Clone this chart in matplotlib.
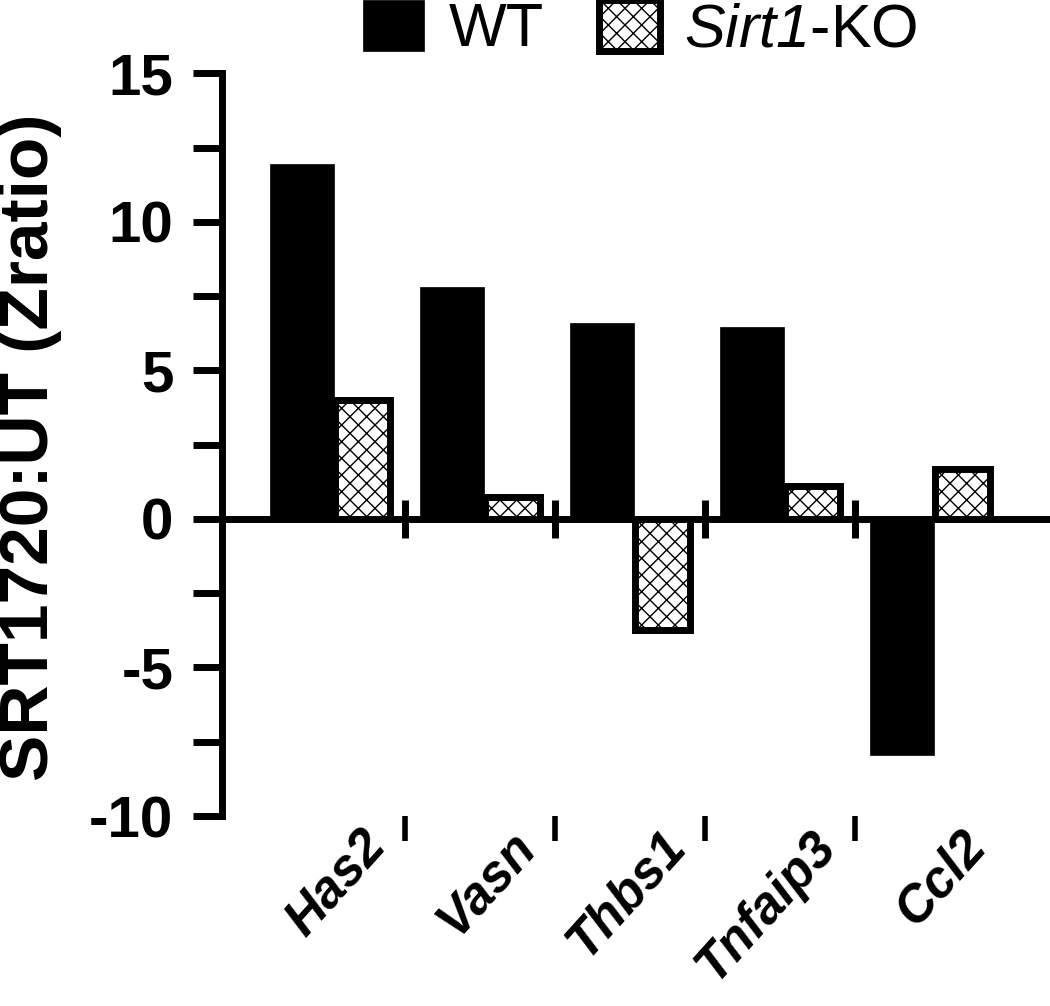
import matplotlib
matplotlib.use("Agg")
import matplotlib.pyplot as plt
import matplotlib.patches as mpatches
import matplotlib.transforms as mtransforms
from matplotlib.ticker import MultipleLocator
import numpy as np

plt.rcParams['font.family'] = ['Liberation Sans', 'DejaVu Sans']
plt.rcParams['mathtext.fontset'] = 'custom'
plt.rcParams['mathtext.rm'] = 'Liberation Sans:italic'
plt.rcParams['mathtext.it'] = 'Liberation Sans:italic'
plt.rcParams['mathtext.bf'] = 'Liberation Sans:bold'
plt.rcParams['hatch.linewidth'] = 1.0
plt.rcParams['axes.unicode_minus'] = False

# ---- data ----
genes = ["Has2", "Vasn", "Thbs1", "Tnfaip3", "Ccl2"]
wt_values = [11.95, 7.8, 6.6, 6.45, -7.95]
ko_values = [4.0, 0.73, -3.75, 1.12, 1.69]
series_labels = ["WT", r"$\mathrm{Sirt1}$-KO"]
y_ticks = [-10, -5, 0, 5, 10, 15]
y_label = "SRT1720:UT (Zratio)"

fig = plt.figure(figsize=(10.5, 10.06), dpi=100)
ax = fig.add_axes([222/1050, 1 - 816/1006, (1048-222)/1050, (816-73.3)/1006])

x = np.arange(len(genes))
w_wt = 0.43
w_ko = 0.37
ax.bar(x, wt_values, width=-w_wt, align='edge', color='black', edgecolor='black',
       linewidth=0.5, zorder=2)
ax.bar(x + 0.005, ko_values, width=w_ko, align='edge', color='white', edgecolor='black',
       linewidth=5, hatch='xx', zorder=2)

ax.set_xlim(-0.747, 4.76)
ax.set_ylim(-10, 15)

for s in ['top', 'right', 'bottom']:
    ax.spines[s].set_visible(False)
ax.spines['left'].set_linewidth(5)
ax.spines['left'].set_capstyle('projecting')

ax.set_yticks(y_ticks)
ax.yaxis.set_minor_locator(MultipleLocator(2.5))
ax.tick_params(axis='y', which='both', direction='out', length=21, width=5, pad=14,
               labelsize=42)
for lab in ax.get_yticklabels():
    lab.set_fontweight('bold')

# group boundary ticks at the bottom
bounds = x[:-1] + 0.475
ax.set_xticks(bounds)
ax.set_xticklabels([])
ax.tick_params(axis='x', which='major', direction='out', length=18, width=4, pad=0)
ax.tick_params(axis='x', which='minor', length=0)

# zero line with crossing ticks
sec = ax.secondary_xaxis(0, transform=ax.transData)
sec.spines['bottom'].set_linewidth(5)
sec.set_xticks(bounds)
sec.set_xticklabels([])
sec.tick_params(axis='x', direction='inout', length=28, width=5)

# category labels
trans = mtransforms.blended_transform_factory(ax.transData, ax.transAxes)
for xi, g in zip(x, genes):
    ax.text(xi + 0.17, -0.008, g, transform=trans, rotation=48, ha='right', va='top',
            rotation_mode='anchor', fontsize=37, fontweight='bold', fontstyle='italic')

fig.text(30/1050, 1 - 447/1006, y_label, rotation=90, ha='center', va='center',
         fontsize=50, fontweight='bold')

handles = [mpatches.Patch(facecolor='black', edgecolor='black', linewidth=0.5),
           mpatches.Patch(facecolor='white', edgecolor='black', linewidth=5, hatch='xx')]
fig.legend(handles, series_labels, loc='upper center', bbox_to_anchor=(0.61, 1.0),
           ncol=2, frameon=False, fontsize=44, handlelength=1.0, handleheight=0.9,
           handletextpad=0.4, columnspacing=0.9, borderaxespad=0, borderpad=0.0)

fig.savefig("out.png", dpi=100)
